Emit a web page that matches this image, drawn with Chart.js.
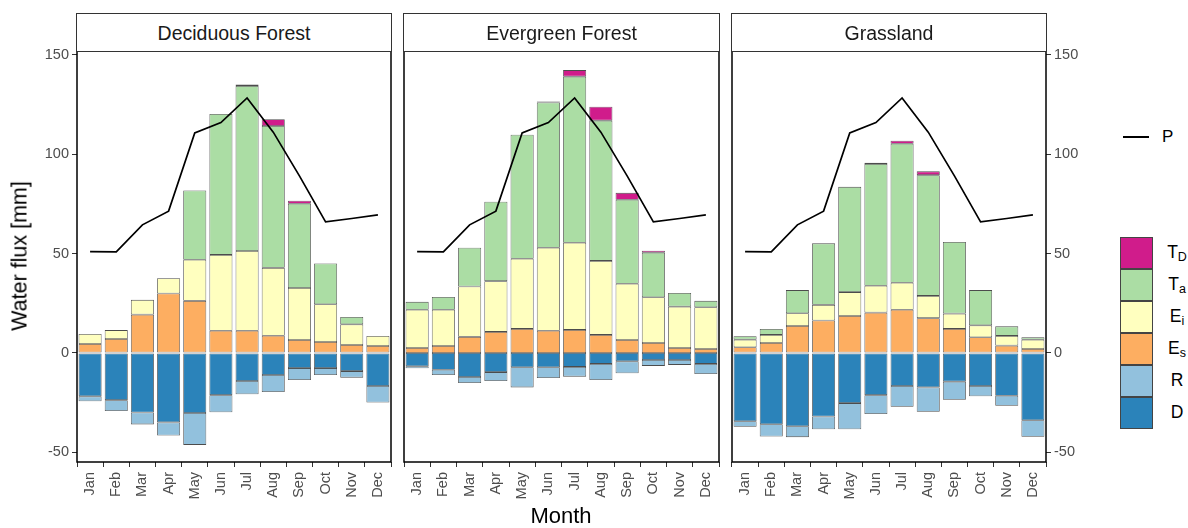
<!DOCTYPE html>
<html><head><meta charset="utf-8">
<script src="https://cdn.jsdelivr.net/npm/chart.js@4.4.0/dist/chart.umd.min.js"></script>
<style>
body{margin:0;width:1188px;height:528px;background:#fff;position:relative;overflow:hidden;font-family:"Liberation Sans",Arial,sans-serif;}
canvas{position:absolute;}
.strip{position:absolute;top:13px;height:39px;border:1px solid #333;box-sizing:border-box;background:#fff;text-align:center;font-size:19.5px;line-height:38px;color:#1a1a1a;}
.ytitle{position:absolute;left:20px;top:256px;transform:translate(-50%,-50%) rotate(-90deg);font-size:21.5px;color:#000;white-space:nowrap;}
.xtitle{position:absolute;left:561px;top:516px;transform:translate(-50%,-50%);font-size:22px;color:#000;white-space:nowrap;}
.leg{position:absolute;font-size:17px;color:#000;}
.box{position:absolute;left:1120px;width:33px;height:32px;box-sizing:border-box;border:1px solid #444;}
.lab{position:absolute;left:1162px;width:30px;text-align:center;font-size:17.5px;color:#000;line-height:20px;}
.lab sub{font-size:12.5px;vertical-align:-3px;}
</style></head>
<body>
<canvas id="c1"></canvas><canvas id="c2"></canvas><canvas id="c3"></canvas>
<div class="strip" style="left:76px;width:316px;">Deciduous Forest</div>
<div class="strip" style="left:403px;width:317px;">Evergreen Forest</div>
<div class="strip" style="left:731px;width:316px;">Grassland</div>
<div class="ytitle">Water flux [mm]</div>
<div class="xtitle">Month</div>
<div style="position:absolute;left:1123px;top:136px;width:26px;height:2px;background:#000;"></div>
<div class="leg" style="left:1162px;top:127px;">P</div>
<div id="legend"></div>
<script>
const months = ["Jan","Feb","Mar","Apr","May","Jun","Jul","Aug","Sep","Oct","Nov","Dec"];
const yTicks = [-50, 0, 50, 100, 150];
const panels = ["Deciduous Forest","Evergreen Forest","Grassland"];
const P = [51.0,50.8,64.4,71.3,110.6,115.8,128.2,111.0,89.0,65.9,67.6,69.4];

const df_Es = [4.5,7.0,19.3,29.9,26.2,11.2,11.2,8.7,6.5,5.5,4.0,3.5];
const df_Ei = [5.1,4.5,7.4,7.7,20.7,38.1,40.1,34.1,26.2,19.0,10.4,5.1];
const df_Ta = [0,0,0,0,34.8,70.8,82.9,71.3,42.3,20.5,3.7,0];
const df_TD = [0,0,0,0,0,0,0.8,3.4,1.5,0,0,0];
const df_D  = [-21.8,-23.7,-29.9,-34.9,-30.2,-21.2,-14.1,-11.1,-7.6,-7.6,-9.1,-16.6];
const df_R  = [-2.5,-5.5,-6.0,-6.6,-16.0,-8.6,-6.7,-8.5,-6.0,-3.5,-3.3,-8.3];

const ef_Es = [2.5,3.5,8.1,10.6,12.1,11.2,11.6,9.1,6.5,5.0,2.5,2.0];
const ef_Ei = [19.2,18.2,25.3,25.5,35.3,41.7,43.8,37.2,28.3,23.0,20.8,21.0];
const ef_Ta = [4.0,6.5,19.5,39.9,62.3,73.0,83.5,70.5,42.2,22.4,6.9,3.2];
const ef_TD = [0,0,0,0,0,0.5,3.3,7.0,3.5,1.0,0,0];
const ef_D  = [-6.7,-8.4,-12.1,-9.6,-7.2,-7.2,-7.0,-5.5,-4.2,-3.5,-3.5,-5.5];
const ef_R  = [-1.0,-2.7,-3.0,-4.5,-10.1,-5.4,-4.9,-8.1,-6.0,-3.0,-2.5,-5.1];

const gl_Es = [2.9,5.0,13.6,16.3,18.6,20.3,21.7,17.5,12.1,7.9,3.7,2.0];
const gl_Ei = [3.8,4.1,6.4,7.9,12.0,13.5,13.6,11.2,7.7,6.0,4.9,4.7];
const gl_Ta = [1.7,3.0,11.6,30.9,52.9,61.2,69.9,60.7,36.0,17.7,4.8,1.2];
const gl_TD = [0,0,0,0,0,0.6,1.5,1.9,0,0,0,0];
const gl_D  = [-34.3,-35.8,-36.8,-31.9,-25.2,-21.2,-16.6,-17.3,-14.4,-16.6,-21.5,-33.8];
const gl_R  = [-2.8,-6.2,-5.5,-6.4,-13.1,-9.5,-10.4,-12.3,-9.1,-5.2,-5.0,-8.3];

const legendKeys = ["T<sub>D</sub>","T<sub>a</sub>","E<sub>i</sub>","E<sub>s</sub>","R","D"];
const colors = {TD:"#D01C8B", Ta:"#ABDDA4", Ei:"#FFFFBF", Es:"#FDAE61", R:"#92C1DD", D:"#2B83BA"};
const legendColors = [colors.TD, colors.Ta, colors.Ei, colors.Es, colors.R, colors.D];

const lg = document.getElementById('legend');
legendKeys.forEach((k,i)=>{
  const b=document.createElement('div'); b.className='box'; b.style.top=(237+i*32)+'px'; b.style.background=legendColors[i]; lg.appendChild(b);
  const l=document.createElement('div'); l.className='lab'; l.style.top=(242+i*32)+'px'; l.innerHTML=k; lg.appendChild(l);
});

const YMIN = -54.8, YMAX = 151.8;
const nz = a => a.map(v => v === 0 ? null : v);
const FONT = '"Liberation Sans", Arial, sans-serif';

const borderPlugin = {
  id:'panelBorder',
  afterDraw(chart){
    const a = chart.chartArea, ctx = chart.ctx;
    ctx.save(); ctx.strokeStyle='#000'; ctx.lineWidth=1.5;
    ctx.strokeRect(a.left, a.top, a.right-a.left, a.bottom-a.top);
    ctx.restore();
  }
};
const zeroPad = s => { s.paddingTop = 0; s.paddingBottom = 0; s.paddingLeft = 0; s.paddingRight = 0; };

function makePanel(id, geo, data, yPos){
  const cv = document.getElementById(id);
  cv.style.left = geo.left+'px'; cv.style.top = '45px';
  cv.width = geo.width; cv.height = 483;
  cv.style.width = geo.width+'px'; cv.style.height = '483px';
  const barDs = (label, vals, col) => ({type:'bar', label, data:nz(vals), backgroundColor:col,
      borderColor:'rgba(45,45,45,0.85)', borderWidth:0.8, borderSkipped:false, stack:'flux',
      barPercentage:1.0, categoryPercentage:0.88});
  new Chart(cv, {
    type:'bar',
    data:{labels:months, datasets:[
      {type:'line', label:'P', data:P, borderColor:'#000', borderWidth:1.7, pointRadius:0, tension:0, fill:false, stack:'p'},
      barDs('D', data.D, colors.D),
      barDs('Es', data.Es, colors.Es),
      barDs('R', data.R, colors.R),
      barDs('Ei', data.Ei, colors.Ei),
      barDs('Ta', data.Ta, colors.Ta),
      barDs('TD', data.TD, colors.TD)
    ]},
    options:{
      responsive:false, animation:false, devicePixelRatio:1,
      layout:{padding:{top:6, left:geo.padL, right:geo.padR, bottom:0}},
      plugins:{legend:{display:false}, tooltip:{enabled:false}},
      scales:{
        x:{stacked:true, offset:true,
           grid:{drawOnChartArea:false, drawTicks:true, tickLength:5, color:'#333', lineWidth:1},
           border:{display:false},
           ticks:{autoSkip:false, minRotation:90, maxRotation:90, padding:5, color:'#4d4d4d', font:{size:14.5, family:FONT}},
           afterFit(s){ s.height = 66; zeroPad(s); }},
        y:{stacked:true, display: yPos !== null, position: yPos || 'left', min:YMIN, max:YMAX,
           grid:{drawOnChartArea:false, drawTicks:true, tickLength:5, color:'#333', lineWidth:1},
           border:{display:false},
           ticks:{padding:3, color:'#4d4d4d', font:{size:14.5, family:FONT}},
           afterBuildTicks(s){ s.ticks = yTicks.map(v=>({value:v})); },
           afterFit(s){ if (geo.yw !== undefined) s.width = geo.yw; zeroPad(s); }}
      }
    },
    plugins:[borderPlugin]
  });
}

makePanel('c1', {left:0, width:395, padL:0, padR:4, yw:77},
  {Es:df_Es, Ei:df_Ei, Ta:df_Ta, TD:df_TD, D:df_D, R:df_R}, 'left');
makePanel('c2', {left:400, width:323, padL:4, padR:4},
  {Es:ef_Es, Ei:ef_Ei, Ta:ef_Ta, TD:ef_TD, D:ef_D, R:ef_R}, null);
makePanel('c3', {left:728, width:368, padL:4, padR:0, yw:50},
  {Es:gl_Es, Ei:gl_Ei, Ta:gl_Ta, TD:gl_TD, D:gl_D, R:gl_R}, 'right');
</script>
</body></html>
